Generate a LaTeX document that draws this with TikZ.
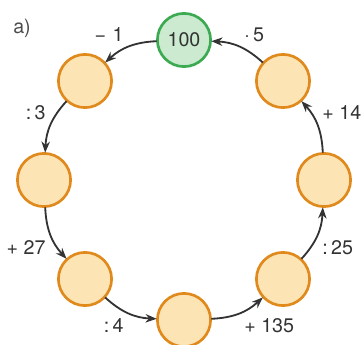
\documentclass[tikz,border=0pt]{standalone}
\usepackage{fontspec}
\setmainfont{TeX Gyre Heros}
\usetikzlibrary{arrows.meta}

\definecolor{ringorange}{HTML}{E08A1E}
\definecolor{fillorange}{HTML}{FDE4B4}
\definecolor{ringgreen}{HTML}{3BAA52}
\definecolor{fillgreen}{HTML}{CBEACF}
\definecolor{textgray}{HTML}{333333}

\tikzset{
  station/.style={circle, draw=ringorange, fill=fillorange, line width=1.9pt,
    minimum size=1.33cm, inner sep=0pt, outer sep=0.5pt},
  startstation/.style={station, draw=ringgreen, fill=fillgreen},
  arr/.style={-{Stealth[length=2.8mm,width=2.1mm]}, line width=1.3pt, textgray},
  lbl/.style={font=\fontsize{14}{16}\selectfont, text=textgray, inner sep=3pt}
}

\begin{document}
\begin{tikzpicture}
  \useasboundingbox (-4.6,-4.125) rectangle (4.425,4.5);

  % Nodes
  \node (tag) at (-4.05,3.8) [lbl, text=black!70] {a)};
  \node (start) at (90:3.5) [startstation, font=\fontsize{14}{16}\selectfont, text=textgray] {100};
  \node (s1) at (135:3.5) [station] {};
  \node (s2) at (180:3.5) [station] {};
  \node (s3) at (225:3.5) [station] {};
  \node (s4) at (270:3.5) [station] {};
  \node (s5) at (315:3.5) [station] {};
  \node (s6) at (0:3.5) [station] {};
  \node (s7) at (45:3.5) [station] {};

  % Edges
  \draw[arr] (start) to [bend right=20] node[lbl, auto=right] {−\,\,1} (s1);
  \draw[arr] (s1) to [bend right=20] node[lbl, auto=right] {:\,3} (s2);
  \draw[arr] (s2) to [bend right=20] node[lbl, auto=right] {+ 27} (s3);
  \draw[arr] (s3) to [bend right=20] node[lbl, auto=right] {:\,4} (s4);
  \draw[arr] (s4) to [bend right=20] node[lbl, auto=right] {+ 135} (s5);
  \draw[arr] (s5) to [bend right=20] node[lbl, auto=right] {:\,25} (s6);
  \draw[arr] (s6) to [bend right=20] node[lbl, auto=right] {+ 14} (s7);
  \draw[arr] (s7) to [bend right=20] node[lbl, auto=right] {·\,5} (start);
\end{tikzpicture}
\end{document}
